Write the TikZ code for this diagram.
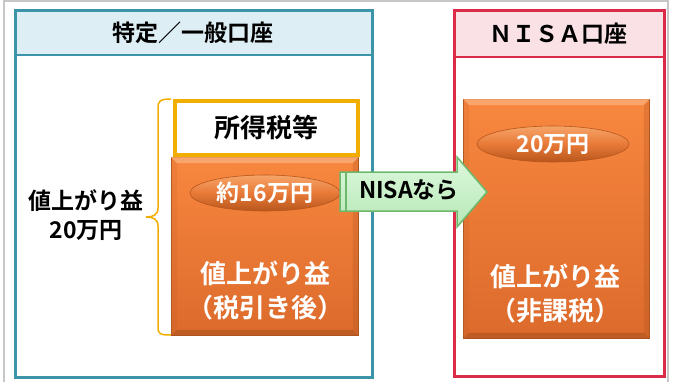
\documentclass[tikz,border=0pt]{standalone}
\usepackage{fontspec}
\setmainfont{Noto Sans CJK JP}[BoldFont={Noto Sans CJK JP Bold}]
\definecolor{tealb}{HTML}{3C94A9}
\definecolor{tealh}{HTML}{DDEEF4}
\definecolor{crim}{HTML}{DB2B48}
\definecolor{pinkh}{HTML}{FAE1E6}
\definecolor{gold}{HTML}{F2AE00}
\definecolor{orT}{HTML}{F8873F}
\definecolor{orB}{HTML}{DC6A2C}
\definecolor{orD}{HTML}{B45A22}
\definecolor{orL}{HTML}{FBB07A}
\definecolor{orS}{HTML}{A8501E}
\definecolor{elT}{HTML}{F6A468}
\definecolor{elM}{HTML}{E87A38}
\definecolor{elB}{HTML}{B8561C}
\definecolor{grT}{HTML}{DDF8DD}
\definecolor{grB}{HTML}{B6E8B6}
\definecolor{grD}{HTML}{6DB86D}
\tikzset{
  acct/.style={draw, line width=3pt, anchor=north west, inner sep=0pt},
  hdr/.style={font=\bfseries\fontsize{23}{26}\selectfont},
  orbox/.style={anchor=north west, inner sep=0pt, top color=orT, bottom color=orB, draw=orD, line width=0.8pt},
  oval/.style={ellipse, inner sep=0pt, top color=elT, bottom color=elB, middle color=elM, draw=elB, line width=0.6pt, font=\bfseries\fontsize{23}{26}\selectfont, text=white},
  wtxt/.style={font=\bfseries\fontsize{26}{34}\selectfont, text=white, align=center},
  btxt/.style={font=\bfseries\fontsize{23}{29}\selectfont, align=center},
}
\newcommand\orbevel[1]{%
  \fill[orL, opacity=0.75] (#1.north west) -- (#1.north east) -- ([shift={(-6pt,-6pt)}]#1.north east) -- ([shift={(6pt,-6pt)}]#1.north west) -- cycle;
  \fill[orS, opacity=0.55] (#1.south west) -- (#1.south east) -- ([shift={(-6pt,6pt)}]#1.south east) -- ([shift={(6pt,6pt)}]#1.south west) -- cycle;
  \fill[orS, opacity=0.25] (#1.north east) -- (#1.south east) -- ([shift={(-6pt,6pt)}]#1.south east) -- ([shift={(-6pt,-6pt)}]#1.north east) -- cycle;
  \fill[orS, opacity=0.12] (#1.north west) -- (#1.south west) -- ([shift={(6pt,6pt)}]#1.south west) -- ([shift={(6pt,-6pt)}]#1.north west) -- cycle;
}
\usetikzlibrary{shapes.geometric}
\begin{document}
\begin{tikzpicture}[x=1pt,y=-1pt]
\useasboundingbox (0,0) rectangle (676,381);
\draw[black!22, line width=1.5pt] (4,420) -- (4,1) -- (668,1) -- (668,420);
% left account
\fill[tealh] (13.5,8.5) rectangle (370.5,55);
\node[acct, draw=tealb, minimum width=357pt, minimum height=367.5pt] (L) at (13.5,8.5) {};
\draw[tealb, line width=2pt] (13.5,55) -- (370.5,55);
\node[hdr] (Lh) at (193,33) {特定／一般口座};
% right account
\fill[pinkh] (452.5,8.5) rectangle (663,57);
\node[acct, draw=crim, minimum width=210.5pt, minimum height=366.5pt] (R) at (452.5,8.5) {};
\draw[crim, line width=2pt] (452.5,57) -- (663,57);
\node[hdr] (Rh) at (558,34) {ＮＩＳＡ口座};
% left contents
\node[orbox, minimum width=187pt, minimum height=178pt] (Ob) at (171,157) {};
\orbevel{Ob}
\node[anchor=north west, inner sep=0pt, draw=gold, line width=4pt, fill=white, minimum width=183pt, minimum height=54pt] (Tax) at (173,99) {};
\node[font=\bfseries\fontsize{26}{30}\selectfont] (Taxt) at (Tax.center) {所得税等};
\node[oval, minimum width=150pt, minimum height=36pt] (E1) at (265,193) {約16万円};
\node[wtxt] (W1) at (265,291) {値上がり益\\（税引き後）};
% brace
\draw[gold, line width=1.5pt] (171,99) .. controls (160,99) and (158,101) .. (158,108)
  -- (158,208) .. controls (158,215) and (153,217) .. (146,217)
  .. controls (153,217) and (158,219) .. (158,226)
  -- (158,327) .. controls (158,334) and (160,335) .. (171,335);
\node[btxt] (Lb) at (86,215) {値上がり益\\20万円};
% right contents
\node[orbox, minimum width=186pt, minimum height=239pt] (Rb) at (463,99) {};
\orbevel{Rb}
\node[oval, minimum width=152pt, minimum height=36pt] (E2) at (553,144) {20万円};
\node[wtxt] (W2) at (555,294) {値上がり益\\（非課税）};
% arrow
\draw[grD, line width=1.5pt, top color=grT, bottom color=grB]
  (340,172) -- (457,172) -- (457,157) -- (487,192) -- (457,227) -- (457,211) -- (340,211) -- cycle;
\draw[grD, line width=1.2pt] (346,172) -- (346,211);
\node[font=\bfseries\fontsize{23}{26}\selectfont] (At) at (409,190) {NISAなら};
\end{tikzpicture}
\end{document}
